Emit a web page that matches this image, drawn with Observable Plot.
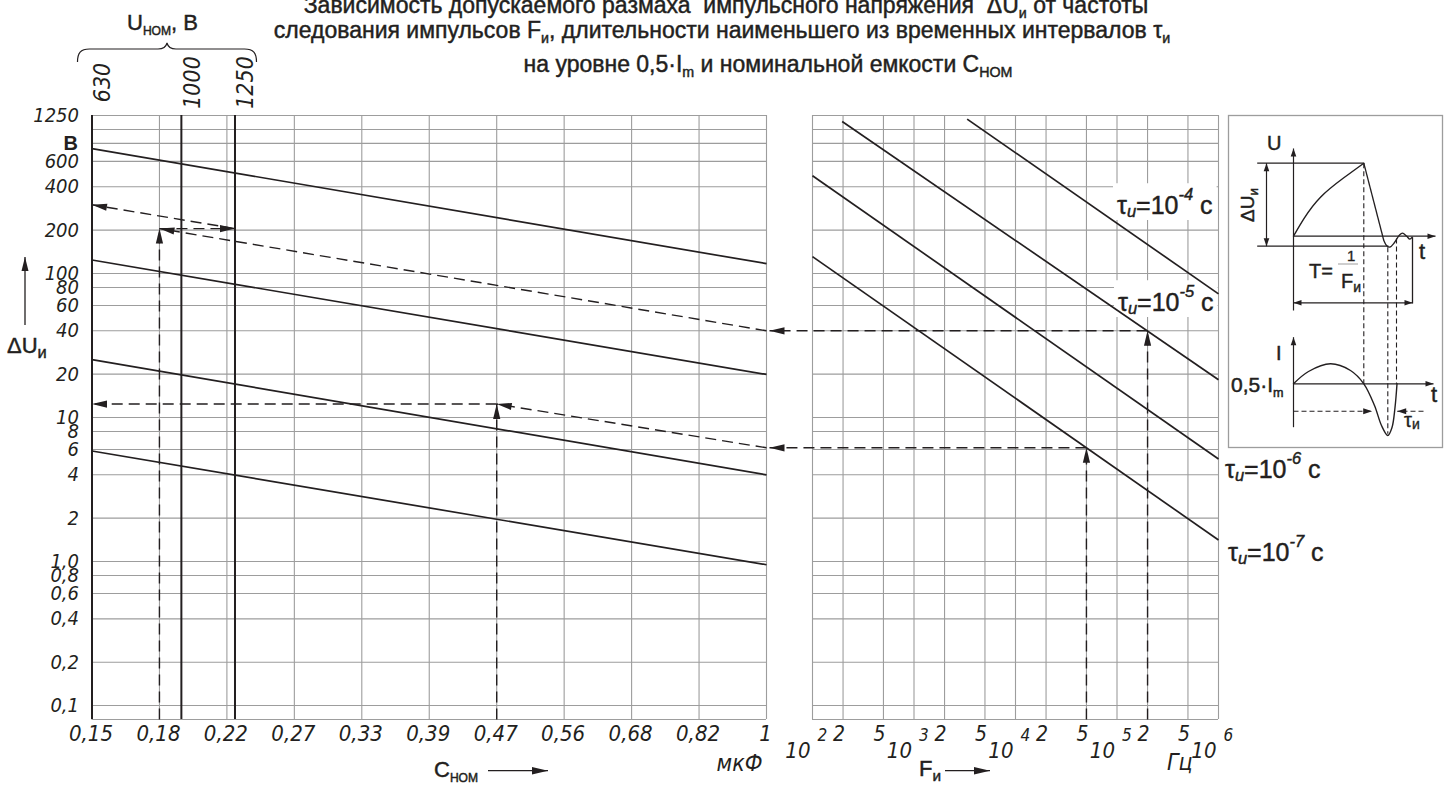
<!DOCTYPE html>
<html lang="ru">
<head>
<meta charset="utf-8">
<script src="https://cdn.jsdelivr.net/npm/d3@7"></script>
<script src="https://cdn.jsdelivr.net/npm/@observablehq/plot@0.6"></script>
<style>
html,body{margin:0;padding:0;background:#fff;}
#wrap{position:relative;width:1448px;height:785px;overflow:hidden;background:#fff;}
#wrap svg{position:absolute;left:0;top:0;background:transparent !important;max-width:none !important;overflow:visible;}
</style>
</head>
<body>
<div id="wrap"></div>
<script>
// ================= DATA =================
// left panel: nominal capacitance (µF), equally spaced on the chart
const cValues = [0.15,0.18,0.22,0.27,0.33,0.39,0.47,0.56,0.68,0.82,1];
const cLabels = ["0,15","0,18","0,22","0,27","0,33","0,39","0,47","0,56","0,68","0,82","1"];
// nominal voltage lines (V) and their position on the C axis
const uNomValues = [630,1000,1250];
const uNomC = [0.15,0.193,0.226];
// ΔU axis (V)
const yGrid = [1250,1000,800,600,400,200,100,80,60,40,20,10,8,6,4,2,1,0.8,0.6,0.4,0.2,0.1,0.08];
const yTicks = [1250,600,400,200,100,80,60,40,20,10,8,6,4,2,1,0.8,0.6,0.4,0.2,0.1];
const yTickLabels = ["1250","600","400","200","100","80","60","40","20","10","8","6","4","2","1,0","0,8","0,6","0,4","0,2","0,1"];
// left family of lines ΔU(C)
const familyCStart = [0.15,0.15,0.15,0.15];
const familyCEnd   = [1,1,1,1];
const familyUStart = [736,124,25.2,5.85];
const familyUEnd   = [117,19.9,4.0,0.95];
// right panel: pulse frequency (Hz)
const fGrid = [100,200,500,1e3,2e3,5e3,1e4,2e4,5e4,1e5,2e5,5e5,1e6];
const fMinor = [200,500,2e3,5e3,2e4,5e4,2e5,5e5];
const fMinorLabels = ["2","5","2","5","2","5","2","5"];
const fDecades = [1e2,1e3,1e4,1e5,1e6];
const fDecadeExp = ["2","3","4","5","6"];
// τи lines ΔU(F)
const tauExp    = ["-4","-5","-6","-7"];
const tauFStart = [3340,196,100,100];
const tauUStart = [1180,1135,477,131];
const tauFEnd   = [1e6,1e6,1e6,1e6];
const tauUEnd   = [72.2,18.3,5.15,1.41];
// worked examples (dashed read-out paths)
const exF      = [2e5, 5e4];     // frequency
const exU      = [40, 6.16];     // ΔU read on τ line
const exC      = [0.18, 0.47];   // capacitance
const exUc     = [205, 12.4];    // ΔU at that capacitance
const exUnomC  = [0.226];        // example A transferred to U_ном = 1250 V line
const exResult = [300];          // example A result at left axis

// inset (schematic units)
const insetChargeCurve = [[65,120.7],[75.3,103.3],[92,81.7],[115.3,62.3],[135.3,47.7]];
const insetRing = [[155.3,125],[158.5,130.5],[161.5,131.5],[166,127],[171,119.5],[174,117.7],[178,120.5],[181.3,123.7],[183.7,121.7]];
const insetCurrent = [[65,268.3],[80,256],[102,248.3],[122,255],[135.3,268.3],[146,290],[153,310],[159.3,320],[163.5,312],[166.5,292],[168.5,268.3]];
const insetPlain = [[28.7,47.7,135.3,47.7],[28.7,130.7,160,130.7],[184,121.7,184,188],[135.3,47.7,155.3,125]];
const insetArrowEnd = [[65,195,65,33],[65,120.7,207,120.7],[65,311.7,65,221.7],[65,268.3,205,268.3]];
const insetArrowBoth = [[38,47.7,38,130.7],[65,187.3,184,187.3]];
const insetDashed = [[135.3,47.7,135.3,268.3],[159.3,131.7,159.3,318.3],[168,123,168,268.3]];
const insetDashedArrow = [[65,295.7,143.7,295.7],[195,295.7,168.7,295.7]];

// ================= STYLE / LAYOUT =================
const W = 1448, H = 785;
const ink = "#231f20", gridColor = "#9d9d9d";
const tickFont = "'Liberation Sans Narrow','DejaVu Sans Condensed','Roboto Condensed',sans-serif";
const labelFont = "'Liberation Sans',Arial,Helvetica,sans-serif";
const svgStyle = "position:absolute;left:0;top:0;background:transparent;overflow:visible;max-width:none;";
const top0 = 115, bot0 = 719;
const xL0 = 91.5, xL1 = 766;
const yOpts = {type: "log", domain: [0.08, 1250], range: [bot0, top0]};
const xLopts = {type: "linear", domain: cValues,
  range: cValues.map((d, i) => xL0 + i * (xL1 - xL0) / (cValues.length - 1))};
const xRopts = {type: "log", domain: [100, 1e6], range: [812, 1218]};

const wrap = document.getElementById("wrap");

// filled arrowheads at the ends of the paths of the k-th link mark of a plot
function addHeads(svg, linkIdx, len, half, both) {
  const g = d3.select(svg).selectAll('g[aria-label="link"]').nodes()[linkIdx];
  if (!g) return;
  const heads = [];
  d3.select(g).selectAll("path").each(function () {
    const L = this.getTotalLength();
    const ends = [[L, Math.max(0, L - 2)]];
    if (both) ends.push([0, Math.min(L, 2)]);
    for (const [a, b] of ends) {
      const p = this.getPointAtLength(a), q = this.getPointAtLength(b);
      heads.push([p.x, p.y, Math.atan2(p.y - q.y, p.x - q.x)]);
    }
  });
  for (const [x, y, ang] of heads) {
    const c = Math.cos(ang), s = Math.sin(ang);
    const bx = x - len * c, by = y - len * s;
    d3.select(g).append("path")
      .attr("d", `M${x},${y}L${bx - half * s},${by + half * c}L${bx + half * s},${by - half * c}Z`)
      .attr("fill", ink).attr("stroke", "none").attr("stroke-dasharray", "none");
  }
}

// ================= LEFT PANEL =================
const leftDash = [
  {c1: 1, u1: exU[0], c2: exC[0], u2: exUc[0]},
  {c1: exC[0], u1: 0.08, c2: exC[0], u2: exUc[0]},
  {c1: exC[0], u1: exUc[0], c2: exUnomC[0], u2: exUc[0]},
  {c1: exUnomC[0], u1: exUc[0], c2: cValues[0], u2: exResult[0]},
  {c1: 1, u1: exU[1], c2: exC[1], u2: exUc[1]},
  {c1: exC[1], u1: 0.08, c2: exC[1], u2: exUc[1]},
  {c1: exC[1], u1: exUc[1], c2: cValues[0], u2: exUc[1]}
];
const tickText = {fontFamily: tickFont, fontStyle: "italic", fill: ink};

const leftPlot = Plot.plot({
  width: W, height: H,
  marginLeft: xL0, marginRight: W - xL1, marginTop: top0, marginBottom: H - bot0,
  x: {...xLopts, axis: null}, y: {...yOpts, axis: null},
  style: svgStyle,
  marks: [
    Plot.ruleY(yGrid, {y: d => d, stroke: gridColor, strokeWidth: 1.1}),
    Plot.ruleX(cValues, {x: d => d, stroke: gridColor, strokeWidth: 1.1}),
    Plot.ruleX(uNomC, {x: d => d, stroke: ink, strokeWidth: 2}),
    Plot.link(d3.range(familyUStart.length), {
      x1: i => familyCStart[i], y1: i => familyUStart[i],
      x2: i => familyCEnd[i], y2: i => familyUEnd[i],
      stroke: ink, strokeWidth: 1.7}),
    Plot.link(leftDash, {x1: "c1", y1: "u1", x2: "c2", y2: "u2",
      stroke: ink, strokeWidth: 1.4, strokeDasharray: "11,6"}),
    Plot.text(yTicks, {y: d => d, text: (d, i) => yTickLabels[i], frameAnchor: "left",
      dx: -13, textAnchor: "end", fontSize: 20, ...tickText}),
    Plot.text(cValues, {x: d => d, text: (d, i) => cLabels[i], frameAnchor: "bottom",
      dy: 21, dx: -1, fontSize: 22, ...tickText}),
    Plot.text(uNomC, {x: d => d, text: (d, i) => String(uNomValues[i]), frameAnchor: "top",
      dy: -33, dx: 2, rotate: -90, fontSize: 23, ...tickText}),
    Plot.text(["мкФ"], {frameAnchor: "bottom-right", dx: -4, dy: 51, textAnchor: "end",
      fontSize: 23, ...tickText}),
    Plot.text(["В"], {frameAnchor: "top-left", dx: -14, dy: 20, textAnchor: "end",
      fontFamily: labelFont, fontWeight: "bold", fontSize: 20, fill: ink})
  ]
});
wrap.appendChild(leftPlot);
addHeads(leftPlot, 1, 15, 3.6, false);

// ================= RIGHT PANEL =================
const xRscale = Plot.scale({x: xRopts});
const gapPx = leftPlot.scale("x").apply(1) + 3;
const fGap = xRscale.invert(gapPx);
const rightDash = [
  {f1: exF[0], u1: 0.08, f2: exF[0], u2: exU[0]},
  {f1: exF[0], u1: exU[0], f2: fGap, u2: exU[0]},
  {f1: exF[1], u1: 0.08, f2: exF[1], u2: exU[1]},
  {f1: exF[1], u1: exU[1], f2: fGap, u2: exU[1]}
];
const rightPlot = Plot.plot({
  width: W, height: H,
  marginLeft: 812, marginRight: W - 1218, marginTop: top0, marginBottom: H - bot0,
  x: {...xRopts, axis: null}, y: {...yOpts, axis: null},
  style: svgStyle,
  marks: [
    Plot.ruleY(yGrid, {y: d => d, stroke: gridColor, strokeWidth: 1.1}),
    Plot.ruleX(fGrid, {x: d => d, stroke: gridColor, strokeWidth: 1.1}),
    Plot.link(d3.range(tauFStart.length), {
      x1: i => tauFStart[i], y1: i => tauUStart[i],
      x2: i => tauFEnd[i], y2: i => tauUEnd[i],
      stroke: ink, strokeWidth: 1.7}),
    Plot.link(rightDash, {x1: "f1", y1: "u1", x2: "f2", y2: "u2",
      stroke: ink, strokeWidth: 1.4, strokeDasharray: "11,6"}),
    Plot.text(fMinor, {x: d => d, text: (d, i) => fMinorLabels[i], frameAnchor: "bottom",
      dy: 21, dx: -4, fontSize: 21, ...tickText}),
    Plot.text(fDecades, {x: d => d, text: () => "10", frameAnchor: "bottom",
      dy: 38, dx: -2, textAnchor: "end", fontSize: 22, ...tickText}),
    Plot.text(fDecades, {x: d => d, text: (d, i) => fDecadeExp[i], frameAnchor: "bottom",
      dy: 21, dx: 5, textAnchor: "start", fontSize: 17, ...tickText}),
    Plot.text(["Гц"], {frameAnchor: "bottom-right", dx: -26, dy: 50, textAnchor: "end",
      fontSize: 23, ...tickText})
  ]
});
wrap.appendChild(rightPlot);
addHeads(rightPlot, 1, 15, 3.6, false);

// ================= INSET =================
const seg = a => ({x1: a[0], y1: a[1], x2: a[2], y2: a[3]});
const insetPlot = Plot.plot({
  width: W, height: H,
  marginLeft: 1228, marginRight: W - 1442, marginTop: 115, marginBottom: H - 447,
  x: {type: "linear", domain: [0, 214], range: [1228, 1442], axis: null},
  y: {type: "linear", domain: [0, 332], range: [115, 447], axis: null},
  style: svgStyle,
  marks: [
    Plot.frame({stroke: gridColor, strokeWidth: 1.3}),
    Plot.link(insetPlain.map(seg), {x1: "x1", y1: "y1", x2: "x2", y2: "y2", stroke: ink, strokeWidth: 1.3}),
    Plot.link(insetArrowEnd.map(seg), {x1: "x1", y1: "y1", x2: "x2", y2: "y2", stroke: ink, strokeWidth: 1.2}),
    Plot.link(insetArrowBoth.map(seg), {x1: "x1", y1: "y1", x2: "x2", y2: "y2", stroke: ink, strokeWidth: 1.2}),
    Plot.link(insetDashed.map(seg), {x1: "x1", y1: "y1", x2: "x2", y2: "y2", stroke: ink, strokeWidth: 1.1, strokeDasharray: "5,3"}),
    Plot.link(insetDashedArrow.map(seg), {x1: "x1", y1: "y1", x2: "x2", y2: "y2", stroke: ink, strokeWidth: 1.1, strokeDasharray: "5,3"}),
    Plot.line(insetChargeCurve, {x: d => d[0], y: d => d[1], curve: "natural", stroke: ink, strokeWidth: 1.4}),
    Plot.line(insetRing, {x: d => d[0], y: d => d[1], curve: "catmull-rom", stroke: ink, strokeWidth: 1.3}),
    Plot.line(insetCurrent, {x: d => d[0], y: d => d[1], curve: "catmull-rom", stroke: ink, strokeWidth: 1.4})
  ]
});
wrap.appendChild(insetPlot);
addHeads(insetPlot, 1, 8, 2.8, false);
addHeads(insetPlot, 2, 8, 2.8, true);
addHeads(insetPlot, 4, 9, 3, false);

// ================= OVERLAY TEXT =================
const ov = d3.create("svg").attr("width", W).attr("height", H)
  .attr("style", "position:absolute;left:0;top:0;overflow:visible;pointer-events:none");
wrap.appendChild(ov.node());

function rich(x, y, parts, o = {}) {
  const size = o.size || 22;
  const t = ov.append("text").attr("x", x).attr("y", y)
    .attr("font-family", o.family || labelFont).attr("font-size", size)
    .attr("fill", ink).attr("text-anchor", o.anchor || "start")
    .style("white-space", "pre");
  if (o.weight) t.attr("font-weight", o.weight);
  if (o.italic) t.attr("font-style", "italic");
  if (o.stroke) t.attr("stroke", ink).attr("stroke-width", o.stroke);
  if (o.rotate) t.attr("transform", `rotate(${o.rotate},${x},${y})`);
  let shift = 0;
  for (const p of parts) {
    const [s, kind] = typeof p === "string" ? [p, "n"] : p;
    const target = kind === "sub" ? size * (o.subShift ?? 0.22) : kind === "sup" ? -size * (o.supShift ?? 0.52) : 0;
    const ts = t.append("tspan").attr("dy", target - shift).text(s);
    if (kind !== "n") ts.attr("font-size", size * (o.small ?? 0.62));
    if (kind !== "n" && o.subItalic) ts.attr("font-style", "italic");
    shift = target;
  }
  return t;
}
function decoArrow(x1, y1, x2, y2, len, half) {
  ov.append("line").attr("x1", x1).attr("y1", y1).attr("x2", x2).attr("y2", y2)
    .attr("stroke", ink).attr("stroke-width", 1.3);
  const a = Math.atan2(y2 - y1, x2 - x1), c = Math.cos(a), s = Math.sin(a);
  const bx = x2 - len * c, by = y2 - len * s;
  ov.append("path").attr("d", `M${x2},${y2}L${bx - half * s},${by + half * c}L${bx + half * s},${by - half * c}Z`).attr("fill", ink);
}

// title
const tOpt = {size: 23, anchor: "middle", stroke: 0.45};
rich(726, 13, ["Зависимость допускаемого размаха  импульсного напряжения  ΔU", ["и", "sub"], " от частоты"], tOpt);
rich(722, 38, ["следования импульсов F", ["и", "sub"], ", длительности наименьшего из временных интервалов τ", ["и", "sub"]], tOpt);
rich(768, 72, ["на уровне 0,5·I", ["m", "sub"], " и номинальной емкости С", ["НОМ", "sub"]], tOpt);

// U_ном header and brace
rich(127, 30, ["U", ["НОМ", "sub"], ", В"], {size: 22, stroke: 0.45, small: 0.55});
{
  const xs = leftPlot.scale("x");
  const a = xs.apply(uNomC[0]) - 14, b = xs.apply(uNomC[2]) + 22, m = 167;
  ov.append("path").attr("fill", "none").attr("stroke", ink).attr("stroke-width", 1.2)
    .attr("d", `M${a},62C${a},53 ${a + 3},49 ${a + 12},49L${m - 9},49C${m - 3},49 ${m - 1},47 ${m},43C${m + 1},47 ${m + 3},49 ${m + 9},49L${b - 12},49C${b - 3},49 ${b},53 ${b},62`);
}

// ΔU axis label with arrow
decoArrow(25, 325, 25, 257, 14, 3.5);
rich(7, 353, ["ΔU", ["и", "sub"]], {size: 22, stroke: 0.45, small: 0.75});

// axis titles at the bottom
rich(434, 777, ["C", ["НОМ", "sub"]], {size: 22, stroke: 0.45, small: 0.55});
decoArrow(488, 770.7, 548, 770.7, 16, 3.8);
rich(919, 776, ["F", ["и", "sub"]], {size: 22, stroke: 0.45, small: 0.7});
decoArrow(945, 770.7, 990, 770.7, 16, 3.8);

// τ labels
const tauLabelPos = [[1117, 214], [1118, 311], [1225, 478], [1228, 561]];
const tauBoxed = [true, true, false, false];
const tauTexts = tauExp.map((e, i) =>
  rich(tauLabelPos[i][0], tauLabelPos[i][1], ["τ", ["и", "sub"], "=10", [e, "sup"], " с"],
    {size: 25, stroke: 0.45, small: 0.66, subItalic: true, subShift: 0.12, supShift: 0.55}));
tauTexts.forEach((t, i) => {
  if (!tauBoxed[i]) return;
  const b = t.node().getBBox();
  d3.select(rightPlot).insert("rect", 'g[aria-label="link"]')
    .attr("x", b.x - 4).attr("y", b.y - 2).attr("width", b.width + 8).attr("height", b.height + 2)
    .attr("fill", "#fff");
});

// inset labels
const iOpt = {size: 20, stroke: 0.45};
rich(1267, 150, ["U"], iOpt);
rich(1254, 222, ["ΔU", ["и", "sub"]], {size: 19, stroke: 0.45, rotate: -90, small: 0.7});
rich(1419, 259, ["t"], {size: 22, stroke: 0.45});
rich(1309, 278, ["T="], iOpt);
rich(1347, 261, ["1"], {size: 15, stroke: 0.35});
ov.append("line").attr("x1", 1338).attr("x2", 1358).attr("y1", 264).attr("y2", 264).attr("stroke", gridColor).attr("stroke-width", 1);
rich(1341, 288, ["F", ["и", "sub"]], {size: 20, stroke: 0.45, small: 0.7});
rich(1276, 360, ["I"], iOpt);
rich(1231, 392, ["0,5·I", ["m", "sub"]], {size: 21, stroke: 0.5, small: 0.6});
rich(1431, 402, ["t"], {size: 22, stroke: 0.45});
rich(1404, 427, ["τ", ["и", "sub"]], {size: 20, stroke: 0.35, small: 0.7, subShift: 0.1});
</script>
</body>
</html>
